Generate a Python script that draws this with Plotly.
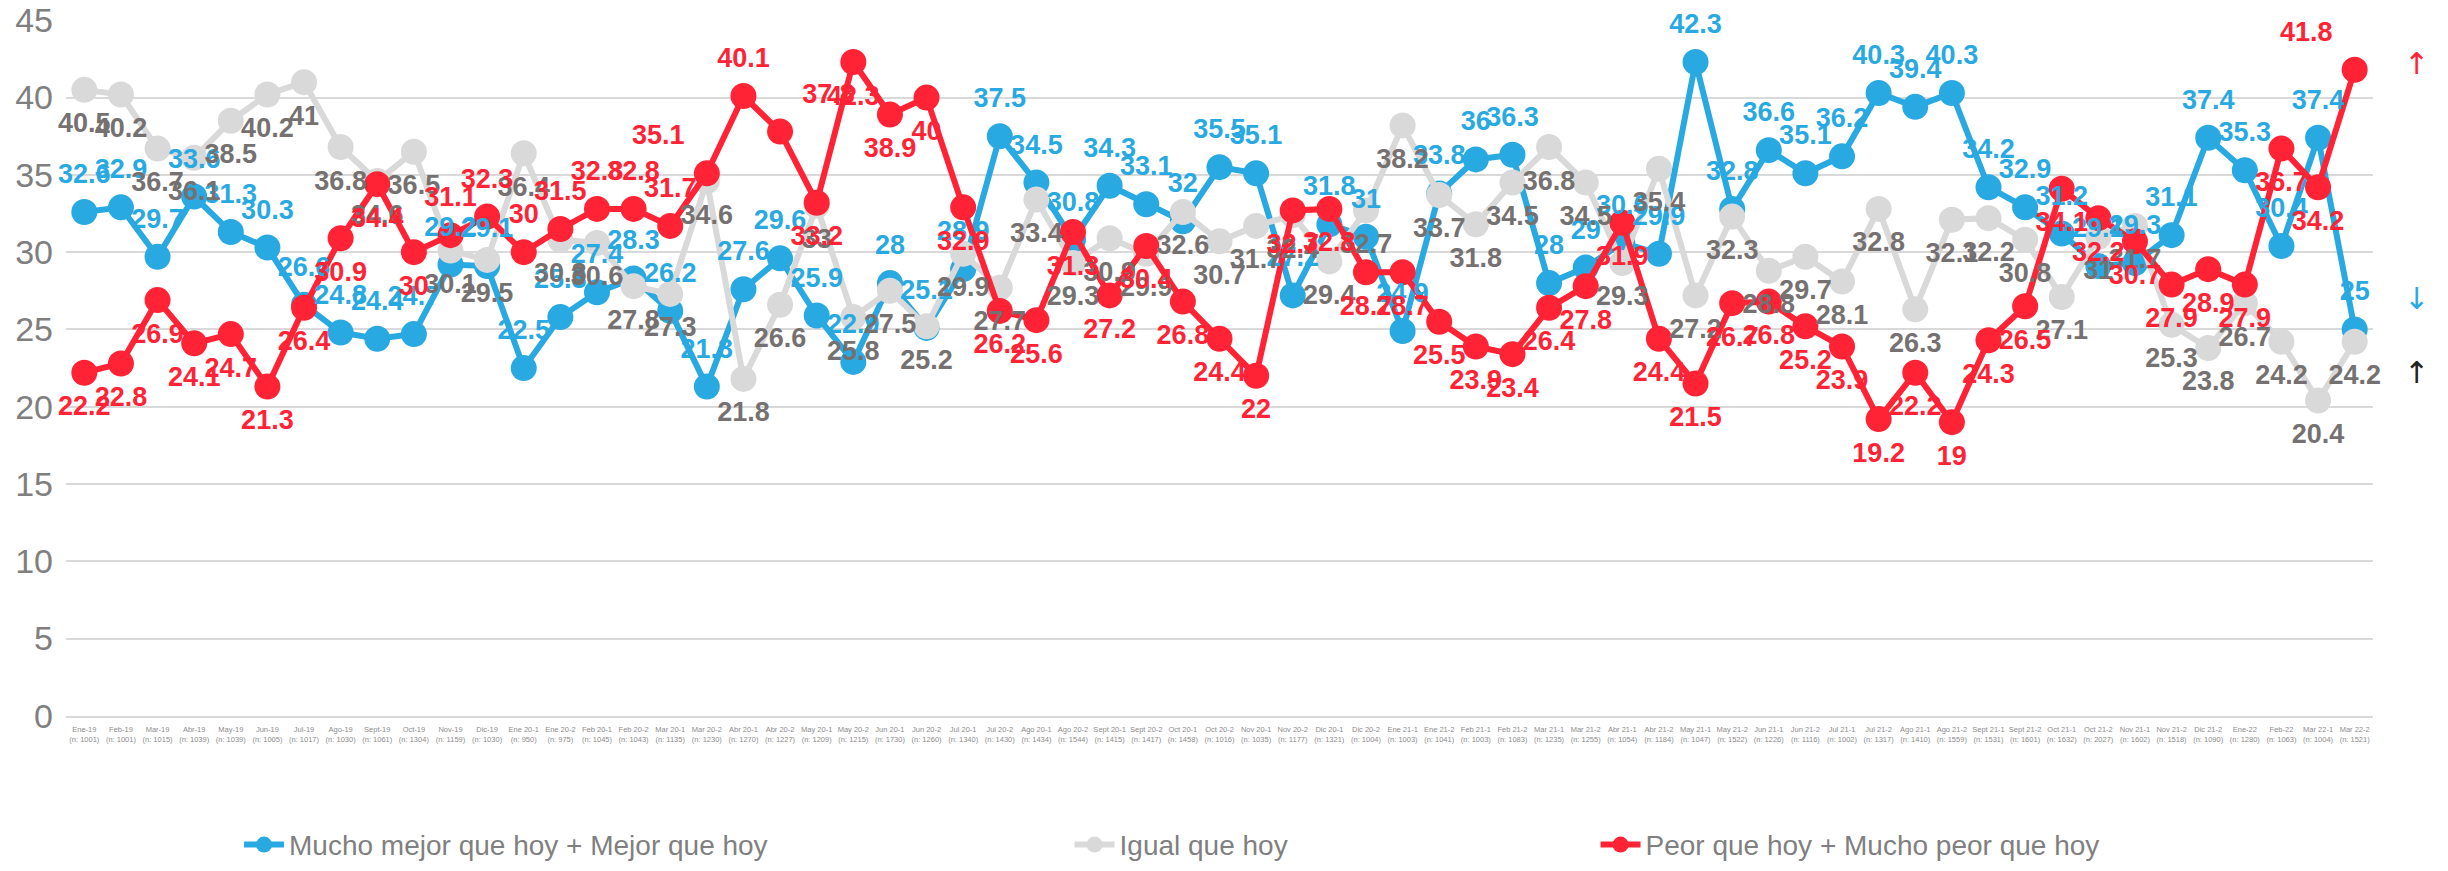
import plotly.graph_objects as go

months = ["Ene-19", "Feb-19", "Mar-19", "Abr-19", "May-19", "Jun-19", "Jul-19", "Ago-19", "Sept-19", "Oct-19",
          "Nov-19", "Dic-19", "Ene 20-1", "Ene 20-2", "Feb 20-1", "Feb 20-2", "Mar 20-1", "Mar 20-2", "Abr 20-1",
          "Abr 20-2", "May 20-1", "May 20-2", "Jun 20-1", "Jun 20-2", "Jul 20-1", "Jul 20-2", "Ago 20-1", "Ago 20-2",
          "Sept 20-1", "Sept 20-2", "Oct 20-1", "Oct 20-2", "Nov 20-1", "Nov 20-2", "Dic 20-1", "Dic 20-2",
          "Ene 21-1", "Ene 21-2", "Feb 21-1", "Feb 21-2", "Mar 21-1", "Mar 21-2", "Abr 21-1", "Abr 21-2",
          "May 21-1", "May 21-2", "Jun 21-1", "Jun 21-2", "Jul 21-1", "Jul 21-2", "Ago 21-1", "Ago 21-2",
          "Sept 21-1", "Sept 21-2", "Oct 21-1", "Oct 21-2", "Nov 21-1", "Nov 21-2", "Dic 21-2", "Ene-22",
          "Feb-22", "Mar 22-1", "Mar 22-2"]
n_sizes = [1001, 1001, 1015, 1039, 1039, 1005, 1017, 1030, 1061, 1304, 1159, 1030, 950, 975, 1045, 1043, 1135,
           1230, 1270, 1227, 1209, 1215, 1730, 1260, 1340, 1430, 1434, 1544, 1415, 1417, 1458, 1016, 1035, 1177,
           1321, 1004, 1003, 1041, 1003, 1083, 1235, 1255, 1054, 1184, 1047, 1522, 1226, 1116, 1002, 1317, 1410,
           1559, 1531, 1601, 1632, 2027, 1602, 1518, 1090, 1280, 1063, 1004, 1521]

mejor = [32.6, 32.9, 29.7, 33.6, 31.3, 30.3, 26.6, 24.8, 24.4, 24.7, 29.2, 29.1, 22.5, 25.8, 27.4, 28.3, 26.2,
         21.3, 27.6, 29.6, 25.9, 22.9, 28, 25.1, 28.9, 37.5, 34.5, 30.8, 34.3, 33.1, 32, 35.5, 35.1, 27.2, 31.8,
         31, 24.9, 33.8, 36, 36.3, 28, 29, 30.6, 29.9, 42.3, 32.8, 36.6, 35.1, 36.2, 40.3, 39.4, 40.3, 34.2, 32.9,
         31.2, 29.1, 29.3, 31.1, 37.4, 35.3, 30.4, 37.4, 25]
igual = [40.5, 40.2, 36.7, 36.1, 38.5, 40.2, 41, 36.8, 34.6, 36.5, 30.1, 29.5, 36.4, 30.8, 30.6, 27.8, 27.3,
         34.6, 21.8, 26.6, 33.0, 25.8, 27.5, 25.2, 29.9, 27.7, 33.4, 29.3, 30.9, 29.9, 32.6, 30.7, 31.7, 32.4,
         29.4, 32.7, 38.2, 33.7, 31.8, 34.5, 36.8, 34.5, 29.3, 35.4, 27.2, 32.3, 28.8, 29.7, 28.1, 32.8, 26.3,
         32.1, 32.2, 30.8, 27.1, 31, 31.7, 25.3, 23.8, 26.7, 24.2, 20.4, 24.2]
peor = [22.2, 22.8, 26.9, 24.1, 24.7, 21.3, 26.4, 30.9, 34.4, 30, 31.1, 32.3, 30, 31.5, 32.8, 32.8, 31.7, 35.1,
        40.1, 37.8, 33.2, 42.3, 38.9, 40, 32.9, 26.2, 25.6, 31.3, 27.2, 30.4, 26.8, 24.4, 22, 32.7, 32.8, 28.7,
        28.7, 25.5, 23.9, 23.4, 26.4, 27.8, 31.9, 24.4, 21.5, 26.7, 26.8, 25.2, 23.9, 19.2, 22.2, 19, 24.3, 26.5,
        34.1, 32.2, 30.7, 27.9, 28.9, 27.9, 36.7, 34.2, 41.8]

series_names = ["Mucho mejor que hoy + Mejor que hoy", "Igual que hoy", "Peor que hoy + Mucho peor que hoy"]

categories = [f"{m}<br>(n: {n})" for m, n in zip(months, n_sizes)]

BLUE = "#29A9E1"
GRAY = "#D9D9D9"
RED = "#FF2335"
FONT = "Liberation Sans, Arial, sans-serif"

# label placement
blue_pos = ["top center"] * len(mejor)
gray_pos = ["bottom center"] * len(igual)
red_pos = ["bottom center"] * len(peor)
for i in range(10, 20):
    red_pos[i] = "top center"
red_pos[17] = "top left"
red_pos[19] = "top right"
red_pos[62] = "top left"

fig = go.Figure()
specs = [
    (mejor, series_names[0], BLUE, BLUE, blue_pos, "legend"),
    (igual, series_names[1], GRAY, "#767171", gray_pos, "legend2"),
    (peor, series_names[2], RED, RED, red_pos, "legend3"),
]
for vals, name, col, lcol, pos, lg in specs:
    fig.add_trace(go.Scatter(
        x=categories, y=vals, name=name, mode="lines+markers",
        line=dict(color=col, width=6),
        marker=dict(color=col, size=26),
        legend=lg, hoverinfo="skip",
    ))
for vals, name, col, lcol, pos, lg in specs:
    fig.add_trace(go.Scatter(
        x=categories, y=vals, mode="markers+text", showlegend=False, cliponaxis=False,
        marker=dict(size=34, color="rgba(0,0,0,0)"),
        text=[f"{v:g}" for v in vals], textposition=pos,
        textfont=dict(family=FONT, size=27, color=lcol, weight="bold"),
        hoverinfo="skip",
    ))

# arrows on the right
arrows = [("↑", RED, 42.2), ("↓", BLUE, 27.0), ("↑", "#222222", 22.2)]
for ch, col, yv in arrows:
    fig.add_annotation(x=1.025, y=yv, xref="paper", yref="y", text=ch, showarrow=False,
                       font=dict(size=30, color=col, family="DejaVu Sans"))

legend_common = dict(orientation="h", yref="container", yanchor="middle", y=0.03, xanchor="left",
                     font=dict(family=FONT, size=28, color="#808080"),
                     bgcolor="rgba(0,0,0,0)", itemwidth=40)
fig.update_layout(
    width=2448, height=871,
    margin=dict(l=66, r=75, t=20, b=155, autoexpand=False),
    plot_bgcolor="white", paper_bgcolor="white",
    legend=dict(x=0.075, **legend_common),
    legend2=dict(x=0.435, **legend_common),
    legend3=dict(x=0.663, **legend_common),
    xaxis=dict(type="category", range=[-0.5, len(categories) - 0.5], tickangle=0,
               tickfont=dict(family=FONT, size=7.5, color="#8C8C8C"),
               showgrid=False, showline=True, linecolor="#D9D9D9", linewidth=2, ticks="",
               ticklabelstandoff=5),
    yaxis=dict(range=[-0.01, 45.02], tickvals=list(range(0, 50, 5)), showgrid=True, gridcolor="#D9D9D9",
               gridwidth=2, zeroline=False, tickfont=dict(family=FONT, size=34, color="#7F7F7F"),
               ticklabelstandoff=12, ticklabeloverflow="allow"),
    showlegend=True,
)

fig.write_html("out.html", config={"displayModeBar": False},
               post_script="document.body.style.margin='0';document.body.style.overflow='hidden';")
